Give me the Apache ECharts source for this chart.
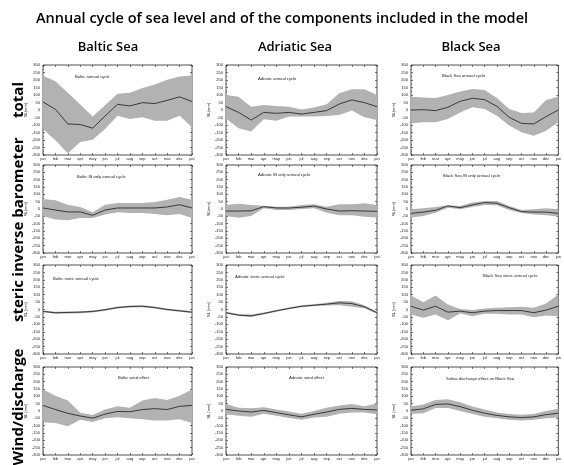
<!DOCTYPE html>
<html>
<head>
<meta charset="utf-8">
<script src="https://cdn.jsdelivr.net/npm/echarts@6/dist/echarts.min.js"></script>
<style>
  html, body { margin: 0; padding: 0; background: #fff; }
  #chart { width: 564px; height: 465px; }
</style>
</head>
<body>
<div id="chart"></div>
<script>
// Month labels along every x axis (13 points: jan .. dec, back to jan)
const months = ['jan','feb','mar','apr','may','jun','jul','aug','sep','oct','nov','dec','jan'];

const seas = ['Baltic Sea', 'Adriatic Sea', 'Black Sea'];
const components = ['total', 'inverse barometer', 'steric', 'Wind/discharge'];

// ---- Baltic Sea (mm) ----
const balticTotalMean  = [53, 5, -93, -97, -121, -40, 38, 27, 49, 43, 64, 88, 56];
const balticTotalUpper = [228, 191, 115, 36, -43, 32, 108, 115, 147, 170, 202, 224, 230];
const balticTotalLower = [-126, -202, -289, -213, -198, -126, -38, -60, -49, -71, -71, -38, -115];

const balticIbMean  = [7, -7, -20, -20, -43, -7, 7, 7, 7, 7, 14, 29, 7];
const balticIbUpper = [68, 59, 29, 14, -23, 29, 41, 41, 41, 48, 63, 81, 63];
const balticIbLower = [-50, -72, -77, -61, -61, -38, -23, -27, -27, -34, -43, -34, -61];

const balticStericMean  = [-13, -22, -20, -18, -13, -2, 13, 20, 22, 13, 0, -9, -18];
const balticStericUpper = [-7, -15, -13, -11, -6, 5, 20, 27, 29, 20, 7, -2, -11];
const balticStericLower = [-19, -29, -27, -25, -20, -9, 6, 13, 15, 6, -7, -16, -25];

const balticWindMean  = [38, 10, -16, -34, -49, -21, -3, -5, 10, 16, 10, 32, 38];
const balticWindUpper = [147, 104, 71, -12, -27, 10, 32, 23, 71, 88, 75, 104, 147];
const balticWindLower = [-77, -82, -104, -60, -75, -49, -43, -49, -56, -64, -64, -56, -82];

// ---- Adriatic Sea (mm) ----
const adriaticTotalMean  = [22, -16, -67, -16, -22, -16, -27, -16, -4, 40, 67, 49, 22];
const adriaticTotalUpper = [100, 89, 22, 33, 27, 22, 4, 16, 38, 111, 138, 138, 100];
const adriaticTotalLower = [-56, -122, -144, -62, -71, -44, -44, -44, -40, -33, -4, -49, -67];

const adriaticIbMean  = [-14, -14, -12, 16, 7, 7, 12, 20, 0, -14, -12, -14, -16];
const adriaticIbUpper = [28, 35, 28, 23, 16, 16, 28, 32, 16, 32, 32, 39, 28];
const adriaticIbLower = [-48, -60, -48, 5, -7, -7, 0, 5, -25, -42, -42, -53, -58];

const adriaticStericMean  = [-22, -38, -43, -27, -9, 7, 22, 29, 36, 45, 40, 18, -22];
const adriaticStericUpper = [-16, -30, -34, -21, -3, 13, 28, 36, 45, 58, 56, 28, -16];
const adriaticStericLower = [-28, -44, -50, -33, -15, 1, 16, 22, 27, 29, 18, 8, -28];

const adriaticWindMean  = [11, 0, -7, 4, -11, -26, -40, -22, -7, 11, 18, 11, 7];
const adriaticWindUpper = [48, 22, 18, 26, 11, -4, -18, 0, 22, 37, 48, 33, 51];
const adriaticWindLower = [-22, -33, -40, -18, -33, -48, -59, -44, -40, -18, -11, -11, -22];

// ---- Black Sea (mm) ----
const blackTotalMean  = [0, 2, -4, 18, 58, 78, 69, 24, -49, -89, -93, -44, 0];
const blackTotalUpper = [89, 84, 80, 100, 124, 140, 133, 80, 7, -20, -16, 67, 89];
const blackTotalLower = [-89, -82, -82, -60, -16, 18, 7, -38, -104, -149, -171, -138, -82];

const blackIbMean  = [-30, -21, -9, 21, 9, 28, 44, 39, 9, -18, -21, -21, -30];
const blackIbUpper = [-2, 5, 14, 25, 21, 44, 55, 55, 21, -7, -2, 5, -2];
const blackIbLower = [-58, -48, -25, 9, -2, 14, 28, 25, -7, -28, -37, -42, -51];

const blackStericMean  = [22, -4, 22, -18, -11, -22, -11, -7, -7, -7, -22, -4, 22];
const blackStericUpper = [94, 49, 94, 34, 4, -4, 7, 11, 16, 18, 11, 40, 101];
const blackStericLower = [-34, -56, -34, -72, -27, -45, -29, -29, -34, -34, -52, -40, -45];

const blackWindMean  = [5, 15, 45, 48, 30, 5, -15, -30, -40, -45, -40, -25, -15];
const blackWindUpper = [30, 45, 75, 80, 60, 30, 10, -10, -20, -25, -20, 0, 15];
const blackWindLower = [-20, -15, 20, 20, 0, -20, -40, -50, -60, -65, -60, -50, -45];

// Panels in reading order: row = component, col = sea
const panels = [
  { title: 'Baltic annual cycle', mean: balticTotalMean, upper: balticTotalUpper, lower: balticTotalLower, yName: 'SL(mm)' },
  { title: 'Adriatic annual cycle', mean: adriaticTotalMean, upper: adriaticTotalUpper, lower: adriaticTotalLower, yName: 'SL(mm)' },
  { title: 'Black Sea annual cycle', mean: blackTotalMean, upper: blackTotalUpper, lower: blackTotalLower, yName: 'SL(mm)' },
  { title: 'Baltic IB only annual cycle', mean: balticIbMean, upper: balticIbUpper, lower: balticIbLower, yName: 'SL(mm)' },
  { title: 'Adriatic IB only annual cycle', mean: adriaticIbMean, upper: adriaticIbUpper, lower: adriaticIbLower, yName: 'SL(mm)' },
  { title: 'Black Sea IB only annual cycle', mean: blackIbMean, upper: blackIbUpper, lower: blackIbLower, yName: 'SL(mm)' },
  { title: 'Baltic steric annual cycle', mean: balticStericMean, upper: balticStericUpper, lower: balticStericLower, yName: 'SL [mm]' },
  { title: 'Adriatic steric annual cycle', mean: adriaticStericMean, upper: adriaticStericUpper, lower: adriaticStericLower, yName: 'SL [mm]' },
  { title: 'Black Sea steric annual cycle', mean: blackStericMean, upper: blackStericUpper, lower: blackStericLower, yName: 'SL [mm]' },
  { title: 'Baltic wind effect', mean: balticWindMean, upper: balticWindUpper, lower: balticWindLower, yName: 'SL [mm]' },
  { title: 'Adriatic wind effect', mean: adriaticWindMean, upper: adriaticWindUpper, lower: adriaticWindLower, yName: 'SL [mm]' },
  { title: 'Sulina discharge effect on Black Sea', mean: blackWindMean, upper: blackWindUpper, lower: blackWindLower, yName: 'SL [mm]' }
];

// Panel geometry
const colLeft = [43, 226, 411];
const colWidth = [149, 151, 150];
const rowTop = [65, 165, 265, 367];
const rowHeight = [90, 88, 89, 88];
// Title offsets inside each panel (relative to the plot area)
const titlePos = [
  [27, 5], [27, 7], [26, 4],
  [29, 5], [27, 3], [27, 4],
  [5, 7], [4, 5], [67, 4],
  [70, 4], [58, 4], [30, 5]
];

const tiny = { fontSize: 4, color: '#222', fontFamily: 'Liberation Sans' };
const tickStyle = { show: true, inside: true, length: 2, lineStyle: { color: '#222', width: 0.6 } };

const grids = [], xAxes = [], yAxes = [], series = [], titles = [];

titles.push({
  text: 'Annual cycle of sea level and of the components included in the model',
  left: 'center', top: 6,
  textStyle: { fontSize: 14.5, fontWeight: 600, color: '#000', fontFamily: 'Open Sans' }
});
const seaCenters = [103, 290, 466];
seas.forEach((s, i) => {
  titles.push({
    text: s, left: seaCenters[i], top: 36, textAlign: 'center',
    textStyle: { fontSize: 13, fontWeight: 600, color: '#000', fontFamily: 'Open Sans' }
  });
});

// Shaded spread band: one polygon through the upper values, back along the lower values
function bandRenderer(upper, lower) {
  return function (params, api) {
    if (params.dataIndex !== 0) return null;
    const pts = [];
    for (let i = 0; i < upper.length; i++) pts.push(api.coord([i, upper[i]]));
    for (let i = lower.length - 1; i >= 0; i--) pts.push(api.coord([i, lower[i]]));
    return {
      type: 'polygon',
      shape: { points: pts },
      style: { fill: '#b2b2b2', stroke: null }
    };
  };
}

panels.forEach((p, k) => {
  const r = Math.floor(k / 3), c = k % 3;
  grids.push({
    left: colLeft[c], top: rowTop[r], width: colWidth[c], height: rowHeight[r],
    show: true, borderColor: '#222', borderWidth: 0.8, backgroundColor: '#fff'
  });
  const xi = xAxes.length;
  // bottom x axis with month labels
  xAxes.push({
    type: 'value', gridIndex: k, min: 0, max: 12, interval: 1, position: 'bottom',
    axisLine: { show: false, onZero: false },
    axisTick: tickStyle,
    axisLabel: Object.assign({ margin: 2, formatter: v => months[v] }, tiny),
    splitLine: { show: false }
  });
  // top x axis, ticks only
  xAxes.push({
    type: 'value', gridIndex: k, min: 0, max: 12, interval: 1, position: 'top',
    axisLine: { show: false, onZero: false },
    axisTick: tickStyle,
    axisLabel: { show: false }, splitLine: { show: false }
  });
  const yi = yAxes.length;
  yAxes.push({
    type: 'value', gridIndex: k, min: -300, max: 300, interval: 50, position: 'left',
    name: p.yName, nameLocation: 'middle', nameGap: 14, nameRotate: 90,
    nameTextStyle: { fontSize: 4, color: '#222', fontFamily: 'Liberation Sans' },
    axisLine: { show: false, onZero: false },
    axisTick: tickStyle,
    minorTick: { show: true, splitNumber: 2, length: 1, lineStyle: { color: '#222', width: 0.5 } },
    axisLabel: Object.assign({ margin: 3 }, tiny),
    splitLine: { show: false }
  });
  yAxes.push({
    type: 'value', gridIndex: k, min: -300, max: 300, interval: 50, position: 'right',
    axisLine: { show: false, onZero: false },
    axisTick: tickStyle,
    axisLabel: { show: false }, splitLine: { show: false }
  });

  series.push({
    type: 'custom', xAxisIndex: xi, yAxisIndex: yi,
    renderItem: bandRenderer(p.upper, p.lower),
    data: p.upper.map((v, i) => [i, p.lower[i], v]),
    encode: { x: 0, y: [1, 2] },
    silent: true, z: 1, clip: true
  });
  series.push({
    type: 'line', xAxisIndex: xi, yAxisIndex: yi,
    data: p.mean.map((v, i) => [i, v]),
    symbol: 'none', lineStyle: { color: '#2a2a2a', width: 0.9 }, silent: true, z: 3
  });

  titles.push({
    text: p.title,
    left: colLeft[c] + titlePos[k][0], top: rowTop[r] + titlePos[k][1],
    textStyle: { fontSize: 4.2, fontWeight: 'normal', color: '#222', fontFamily: 'Liberation Sans' }
  });
});

// Row labels, rotated to read bottom-to-top
const rowCenters = [100, 207, 301, 407];
const graphics = components.map((t, i) => ({
  type: 'text', x: 19, y: rowCenters[i], rotation: Math.PI / 2,
  style: {
    text: t, fontSize: 15, fontWeight: 'bold', fill: '#000',
    fontFamily: 'Open Sans', align: 'center', verticalAlign: 'middle'
  }
}));

const chart = echarts.init(document.getElementById('chart'), null, { renderer: 'canvas' });
chart.setOption({
  animation: false,
  backgroundColor: '#fff',
  title: titles,
  grid: grids,
  xAxis: xAxes,
  yAxis: yAxes,
  series: series,
  graphic: graphics
});
</script>
</body>
</html>
